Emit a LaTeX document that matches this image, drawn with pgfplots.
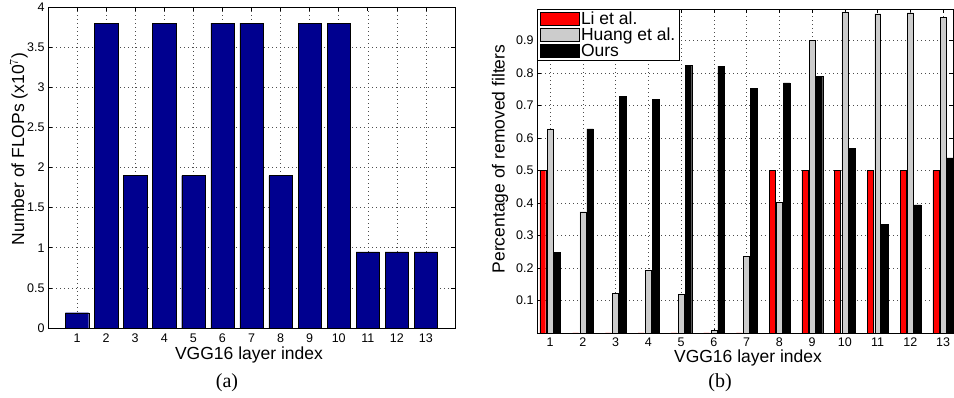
\documentclass[border=0pt]{standalone}
\usepackage{pgfplots}
\pgfplotsset{compat=1.18}
\usepackage{fontspec}
\setmainfont{Liberation Sans}
\newfontfamily\capfont{Liberation Serif}
\definecolor{navy}{rgb}{0,0,0.5625}
\definecolor{lgray}{rgb}{0.8,0.8,0.8}
\begin{document}
\begin{tikzpicture}
\path[use as bounding box] (0pt,0pt) rectangle (954pt,398pt);
\pgfplotsset{
  matlab/.style={
    scale only axis,
    axis line style={line width=0.8pt},
    tick align=inside,
    tick pos=both,
    major tick length=4pt,
    tick style={line width=0.6pt, black},
    grid=major,
    major grid style={black!70, line width=0.5pt, dash pattern=on 0.8pt off 3.2pt},
    /pgf/number format/assume math mode=true,
    tick label style={font=\fontsize{12.5}{14}\selectfont},
  }
}
% ---------------- (a) ----------------
\begin{axis}[matlab,
  at={(48pt,70pt)}, anchor=south west,
  width=407pt, height=321pt,
  xmin=0, xmax=14, ymin=0, ymax=4,
  xtick={1,2,3,4,5,6,7,8,9,10,11,12,13},
  ytick={0,0.5,1,1.5,2,2.5,3,3.5,4},
  xticklabel style={inner sep=0.5pt, yshift=-5pt},
]
\addplot[ybar, bar width=0.8, bar shift=0, fill=navy, draw=black, line width=0.4pt]
  coordinates {(1,0.19) (2,3.8) (3,1.9) (4,3.8) (5,1.9) (6,3.8) (7,3.8)
               (8,1.9) (9,3.8) (10,3.8) (11,0.95) (12,0.95) (13,0.95)};
\end{axis}
% ---------------- (b) ----------------
\begin{axis}[matlab,
  at={(537pt,65pt)}, anchor=south west,
  width=416pt, height=323.5pt,
  xmin=0.6, xmax=13.3, ymin=0, ymax=0.995,
  xtick={1,2,3,4,5,6,7,8,9,10,11,12,13},
  ytick={0.1,0.2,0.3,0.4,0.5,0.6,0.7,0.8,0.9},
  xticklabel style={inner sep=0.5pt, yshift=-4pt},
  legend style={at={(rel axis cs:0,1)}, anchor=north west, draw=black, line width=0.8pt,
    font=\fontsize{17.5}{18}\selectfont, inner xsep=3pt, inner ysep=1pt, row sep=0pt,
    nodes={inner sep=1pt}},
  legend cell align=left,
  legend image code/.code={\draw[#1, line width=0.6pt] (0pt,-6.5pt) rectangle (39pt,6.5pt);},
]
\addplot[ybar, bar width=0.18, bar shift=-0.223, fill=red, draw=black, line width=0.4pt]
  coordinates {(1,0.5) (2,0) (3,0) (4,0) (5,0) (6,0) (7,0)
               (8,0.5) (9,0.5) (10,0.5) (11,0.5) (12,0.5) (13,0.5)};
\addplot[ybar, bar width=0.18, bar shift=0, fill=lgray, draw=black, line width=0.4pt]
  coordinates {(1,0.628) (2,0.373) (3,0.122) (4,0.193) (5,0.119) (6,0.008) (7,0.235)
               (8,0.401) (9,0.900) (10,0.988) (11,0.982) (12,0.985) (13,0.970)};
\addplot[ybar, bar width=0.2, bar shift=0.223, fill=black, draw=black, line width=0.4pt]
  coordinates {(1,0.249) (2,0.628) (3,0.727) (4,0.719) (5,0.823) (6,0.821) (7,0.752)
               (8,0.769) (9,0.790) (10,0.569) (11,0.335) (12,0.394) (13,0.539)};
\legend{Li et al., Huang et al., Ours}
\end{axis}
% labels
\node[rotate=90, inner sep=0.5pt, font=\fontsize{17.5}{19}\selectfont] at (19pt,249pt) {Number of FLOPs (x10$^{7}$)};
\node[inner sep=0.5pt, font=\fontsize{17.5}{19}\selectfont] at (249pt,43pt) {VGG16 layer index};
\node[rotate=90, inner sep=0.5pt, font=\fontsize{17.5}{19}\selectfont] at (500pt,239pt) {Percentage of removed filters};
\node[inner sep=0.5pt, font=\fontsize{17.5}{19}\selectfont] at (748pt,40pt) {VGG16 layer index};
\node[font=\capfont\fontsize{20}{22}\selectfont] at (227pt,15pt) {(a)};
\node[font=\capfont\fontsize{20}{22}\selectfont] at (720pt,15pt) {(b)};
\end{tikzpicture}
\end{document}
